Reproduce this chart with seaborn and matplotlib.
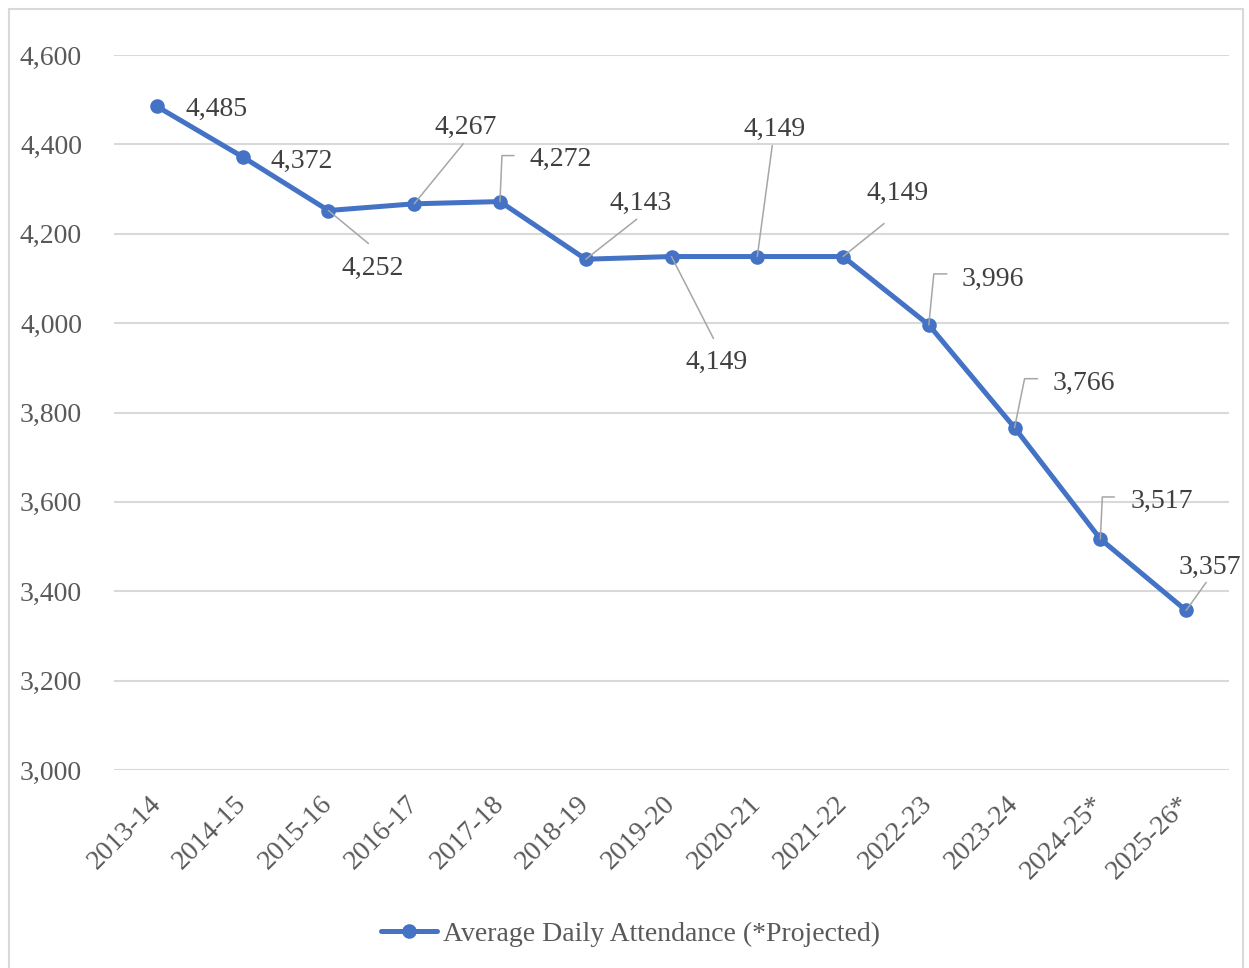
import pandas as pd
import numpy as np
import seaborn as sns
import matplotlib.pyplot as plt
import matplotlib.patches as mpatches
from matplotlib.transforms import IdentityTransform

# data
seasons = ['2013-14', '2014-15', '2015-16', '2016-17', '2017-18', '2018-19', '2019-20',
           '2020-21', '2021-22', '2022-23', '2023-24', '2024-25*', '2025-26*']
attendance = [4485, 4372, 4252, 4267, 4272, 4143, 4149, 4149, 4149, 3996, 3766, 3517, 3357]
series_name = 'Average Daily Attendance (*Projected)'

# label placement (pixel offsets from each point, y up)
label_offsets = [(60, 0), (59, -2), (44, -55), (51, 79), (61, 45), (55, 59), (45, -103),
                 (17, 130), (55, 66), (64, 49), (69, 47), (61, 41), (24, 46)]
leaders = {
    2: [(0, 0), (40, -33)],
    3: [(0, 0), (49, 60)],
    4: [(0, 0), (2, 46), (14, 46)],
    5: [(0, 0), (51, 40)],
    6: [(0, 0), (42, -82)],
    7: [(0, 0), (15, 111)],
    8: [(0, 0), (41, 33)],
    9: [(0, 0), (5, 51), (18, 51)],
    10: [(0, 0), (10, 49), (23, 49)],
    11: [(0, 0), (2, 42), (14, 42)],
    12: [(0, 0), (20, 28)],
}

line_color = '#4472C4'
grid_color = '#D9D9D9'
tick_color = '#595959'
label_color = '#404040'
leader_color = '#A6A6A6'

sns.set_theme(style='white')
plt.rcParams['font.family'] = ['Liberation Serif', 'DejaVu Serif']

df = pd.DataFrame({'season': seasons, 'ada': attendance})

fig = plt.figure(figsize=(12.49, 9.68), dpi=100)
W, H = 1249, 968
ax = fig.add_axes([114 / W, 1 - 770 / H, (1229 - 114) / W, (770 - 55) / H])

sns.lineplot(data=df, x='season', y='ada', ax=ax, color=line_color, linewidth=3.6,
             marker='o', markersize=10.5, markeredgewidth=0, label=series_name, sort=False)

ax.set_xlim(-0.5, len(seasons) - 0.5)
ax.set_ylim(3000, 4600)
ax.set_yticks(np.arange(3000, 4601, 200))
ax.set_yticklabels([f'{v:,}' for v in range(3000, 4601, 200)])
ax.set(xlabel='', ylabel='')
ax.grid(axis='y', color=grid_color, linewidth=1.5)
ax.set_axisbelow(True)
for s in ax.spines.values():
    s.set_visible(False)

ax.tick_params(axis='y', length=0, pad=23, labelsize=20, labelcolor=tick_color)
ax.tick_params(axis='x', length=0, pad=22, labelsize=20, labelcolor=tick_color)
for lab in ax.get_xticklabels():
    lab.set_rotation(45)
    lab.set_ha('right')
    lab.set_va('center')
    lab.set_rotation_mode('anchor')

# data labels
for i, v in enumerate(attendance):
    dx, dy = label_offsets[i]
    ax.annotate(f'{v:,}', xy=(i, v), xytext=(dx, dy - 3), textcoords='offset pixels',
                ha='center', va='center', fontsize=20, color=label_color)

# leader lines in display pixels
for i, pts in leaders.items():
    px, py = ax.transData.transform((i, attendance[i]))
    xs = [px + p[0] for p in pts]
    ys = [py + p[1] for p in pts]
    fig.add_artist(plt.Line2D(xs, ys, transform=IdentityTransform(), color=leader_color,
                              linewidth=1.1, zorder=1))

# legend at bottom
ax.get_legend().remove()
h, l = ax.get_legend_handles_labels()
fig.legend(h, l, loc='center', bbox_to_anchor=(0.5 + 6 / W, 1 - 934 / H), frameon=False,
           fontsize=20, labelcolor=tick_color, handlelength=2.0, handletextpad=0.2)

# chart border
fig.add_artist(mpatches.Rectangle((9 / W, -0.05), (1243 - 9) / W, 1.05 - 9 / H,
                                  transform=fig.transFigure, fill=False,
                                  edgecolor=grid_color, linewidth=1.5))

plt.savefig('out.png', dpi=100)
plt.close()
